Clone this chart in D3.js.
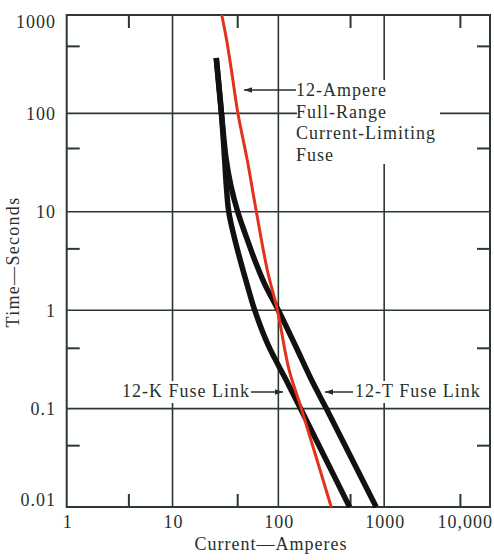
<!DOCTYPE html>
<html>
<head>
<meta charset="utf-8">
<script src="https://cdn.jsdelivr.net/npm/d3@7"></script>
<style>
  html, body { margin: 0; padding: 0; background: #fff; }
  svg { display: block; }
  text { font-family: "Liberation Serif", "Times New Roman", "DejaVu Serif", serif; fill: #27312b; }
</style>
</head>
<body>
<svg id="chart" width="494" height="560"></svg>
<script>
// Time-current characteristics: [current (A), time (s)]
const currentLimitingFuse = [[29.2,1000],[32.5,550],[36.5,250],[41.5,100],[51,33],[62,10],[79,2.5],[98,1],[126,0.25],[165,0.1],[316,0.01]];
const kFuseLink = [[25.9,366],[29,100],[31.1,33.6],[32.2,18.7],[34,10],[37.9,5.8],[43.6,3.24],[50.8,1.8],[59.8,1],[80,0.443],[118.5,0.195],[162,0.1],[471,0.01]];
const tFuseLink = [[25.9,366],[29,100],[32.2,33.6],[35.5,18.7],[41.3,10],[49.1,5.8],[59.8,3.24],[75.1,1.8],[100,1],[144,0.443],[206,0.195],[284,0.1],[840,0.01]];

// Axis ticks
const xTickValues = [1, 10, 100, 1000, 10000];
const xTickLabels = ["1", "10", "100", "1000", "10,000"];
const yTickValues = [1000, 100, 10, 1, 0.1, 0.01];
const yTickLabels = ["1000", "100", "10", "1", "0.1", "0.01"];
const xMinorTicks = [3.87, 41.3, 481, 5250];
const yMinorTicks = [480, 44, 4.2, 0.41, 0.042];

const svg = d3.select("#chart");
const plotLeft = 66.7, plotRight = 490, plotTop = 15, plotBottom = 507;
const x = d3.scaleLog().domain([1, 10000]).range([plotLeft, plotRight]);
const y = d3.scaleLog().domain([0.01, 1000]).range([plotBottom, plotTop]);

const gridColor = "#2c392f";
const inkColor = "#27312b";

// Decade grid lines
const grid = svg.append("g").attr("stroke", gridColor).attr("stroke-width", 1.6);
grid.selectAll(".vx").data(xTickValues.slice(1, -1)).join("line")
  .attr("x1", d => x(d)).attr("x2", d => x(d)).attr("y1", plotTop).attr("y2", plotBottom);
grid.selectAll(".hy").data(yTickValues.slice(1, -1)).join("line")
  .attr("y1", d => y(d)).attr("y2", d => y(d)).attr("x1", plotLeft).attr("x2", plotRight);

// Minor ticks on all four sides
const tickLen = 13;
const minor = svg.append("g").attr("stroke", gridColor).attr("stroke-width", 2);
xMinorTicks.forEach(v => {
  minor.append("line").attr("x1", x(v)).attr("x2", x(v)).attr("y1", plotTop).attr("y2", plotTop + tickLen);
  minor.append("line").attr("x1", x(v)).attr("x2", x(v)).attr("y1", plotBottom).attr("y2", plotBottom - tickLen);
});
yMinorTicks.forEach(v => {
  minor.append("line").attr("y1", y(v)).attr("y2", y(v)).attr("x1", plotLeft).attr("x2", plotLeft + tickLen);
  minor.append("line").attr("y1", y(v)).attr("y2", y(v)).attr("x1", plotRight).attr("x2", plotRight - tickLen);
});

// Frame
svg.append("rect").attr("x", plotLeft).attr("y", plotTop)
  .attr("width", plotRight - plotLeft).attr("height", plotBottom - plotTop)
  .attr("fill", "none").attr("stroke", gridColor).attr("stroke-width", 2);

// White backing behind the annotation text
const backs = [[297, 80, 143, 84], [120, 381, 131, 22], [352, 381, 131, 22]];
svg.append("g").selectAll("rect").data(backs).join("rect")
  .attr("x", d => d[0]).attr("y", d => d[1]).attr("width", d => d[2]).attr("height", d => d[3])
  .attr("fill", "#fff");

// Curves
const line = d3.line().x(d => x(d[0])).y(d => y(d[1])).curve(d3.curveCatmullRom.alpha(0.5));
svg.append("path").datum(tFuseLink).attr("d", line)
  .attr("fill", "none").attr("stroke", "#111").attr("stroke-width", 5.5);
svg.append("path").datum(kFuseLink).attr("d", line)
  .attr("fill", "none").attr("stroke", "#111").attr("stroke-width", 5.5);
svg.append("path").datum(currentLimitingFuse).attr("d", line)
  .attr("fill", "none").attr("stroke", "#e2321c").attr("stroke-width", 3);

// Tick labels
const fontSize = 18;
svg.append("g").selectAll("text").data(yTickValues).join("text")
  .attr("x", 56)
  .attr("y", (d, i) => i === 0 ? 28 : (i === yTickValues.length - 1 ? 506 : y(d) + 6.5))
  .attr("text-anchor", "end").attr("font-size", fontSize).attr("letter-spacing", 1)
  .text((d, i) => yTickLabels[i]);
svg.append("g").selectAll("text").data(xTickValues).join("text")
  .attr("x", (d, i) => i === xTickValues.length - 1 ? 493 : x(d) + 1)
  .attr("y", 528)
  .attr("text-anchor", (d, i) => i === xTickValues.length - 1 ? "end" : "middle")
  .attr("font-size", fontSize).attr("letter-spacing", 1)
  .text((d, i) => xTickLabels[i]);

// Axis titles
svg.append("text").attr("x", 271).attr("y", 550).attr("text-anchor", "middle")
  .attr("font-size", fontSize).attr("letter-spacing", 1).text("Current—Amperes");
svg.append("text").attr("transform", "translate(19,262) rotate(-90)").attr("text-anchor", "middle")
  .attr("font-size", fontSize).attr("letter-spacing", 1.3).text("Time—Seconds");

// Annotations with leaders
const ann = svg.append("g").attr("font-size", fontSize).attr("letter-spacing", 1);
["12-Ampere", "Full-Range", "Current-Limiting", "Fuse"].forEach((t, i) => {
  ann.append("text").attr("x", 296).attr("y", [96, 118, 139, 161][i]).text(t);
});
ann.append("text").attr("x", 122).attr("y", 397).text("12-K Fuse Link");
ann.append("text").attr("x", 355).attr("y", 397).text("12-T Fuse Link");

const leaders = svg.append("g").attr("stroke", inkColor).attr("stroke-width", 1.5);
function arrow(x1, x2, yy) {
  // leader from x1 to the tip at x2, head drawn at the tip
  leaders.append("line").attr("x1", x1).attr("x2", x2).attr("y1", yy).attr("y2", yy);
  const dir = x2 > x1 ? -1 : 1;
  svg.append("path")
    .attr("d", `M${x2},${yy} L${x2 + dir * 8},${yy - 2.8} L${x2 + dir * 8},${yy + 2.8} Z`)
    .attr("fill", inkColor);
}
arrow(296, 244, 90);
arrow(251, 283, 392);
arrow(353, 325, 392);
</script>
</body>
</html>
